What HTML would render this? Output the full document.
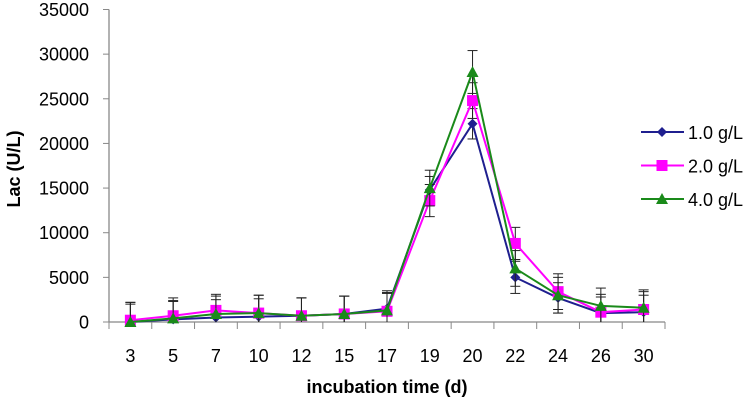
<!DOCTYPE html>
<html><head><meta charset="utf-8"><style>
body{margin:0;background:#fff;width:750px;height:401px;overflow:hidden}
svg text{font-family:"Liberation Sans",Arial,sans-serif}
</style></head><body>
<svg id="c" width="750" height="401"></svg>
<script>
const categories=["3","5","7","10","12","15","17","19","20","22","24","26","30"];
const s1=[0,300,500,600,700,900,1500,14800,22200,5000,2700,1000,1100];
const s2=[200,700,1300,1000,700,900,1200,13600,24800,8800,3400,1100,1400];
const s3=[0,400,900,1000,700,900,1300,15000,28000,6000,3000,1800,1600];
const e1=[2000,2000,2000,2000,2000,2000,2000,1500,1700,1800,1700,1800,1900];
const e2=[2000,2000,1800,2000,2000,2000,2000,1800,2000,1800,2000,2000,2000];
const e3=[2200,2000,2000,2000,2000,2000,2000,2000,2400,2000,2000,2000,2000];
const yTicks=[0,5000,10000,15000,20000,25000,30000,35000];
const names=["1.0 g/L","2.0 g/L","4.0 g/L"];
const NS="http://www.w3.org/2000/svg",svg=document.getElementById('c');
const X0=109,X1=665,Y0=322,Y1=9.5,YM=35000;
const bw=(X1-X0)/categories.length;
const xs=i=>X0+bw*(i+0.5), ys=v=>Y0-(v/YM)*(Y0-Y1);
function mk(t,a,p){const e=document.createElementNS(NS,t);for(const k in a)e.setAttribute(k,a[k]);(p||svg).appendChild(e);return e;}
let g=mk('g',{});

mk('line',{x1:X0,y1:Y1,x2:X0,y2:Y0,stroke:'#888','stroke-width':1.3},g);
yTicks.forEach(v=>{mk('line',{x1:X0-6,y1:ys(v),x2:X0,y2:ys(v),stroke:'#888'},g);
 const t=mk('text',{x:89,y:ys(v)+6.5,'text-anchor':'end','font-size':18},g);t.textContent=v;
 });
g=mk('g',{});

mk('line',{x1:X0,y1:Y0,x2:X1,y2:Y0,stroke:'#888','stroke-width':1.3},g);
for(let i=0;i<=categories.length;i++)mk('line',{x1:X0+bw*i,y1:Y0,x2:X0+bw*i,y2:Y0+7,stroke:'#888'},g);
categories.forEach((c,i)=>{const t=mk('text',{x:xs(i),y:362,'text-anchor':'middle','font-size':18},g);t.textContent=c;
 });
let t=mk('text',{x:387,y:393,'text-anchor':'middle','font-size':18,'font-weight':'bold'});t.textContent='incubation time (d)';

t=mk('text',{x:0,y:0,'text-anchor':'middle','font-size':18,'font-weight':'bold',transform:'translate(20,169) rotate(-90)'});t.textContent='Lac (U/L)';

const series=[[s1,e1,'#1f1f8f','d'],[s2,e2,'#ff00ff','s'],[s3,e3,'#1a8a1a','t']];
function marker(p,x,y,type,col){
 if(type==='d')mk('polygon',{points:`${x},${y-5} ${x+5},${y} ${x},${y+5} ${x-5},${y}`,fill:col},p);
 else if(type==='s')mk('rect',{x:x-5.5,y:y-5.5,width:11,height:11,fill:col},p);
 else mk('polygon',{points:`${x},${y-6} ${x+6},${y+5} ${x-6},${y+5}`,fill:col},p);}
series.forEach(([d,e,col,m],k)=>{
 const sg=mk('g',{});
 d.forEach((v,i)=>{const x=xs(i);const lo=Math.max(0,v-e[i]),hi=v+e[i];
  mk('line',{x1:x,y1:ys(lo),x2:x,y2:ys(hi),stroke:'#222'},sg);
  mk('line',{x1:x-5,y1:ys(hi),x2:x+5,y2:ys(hi),stroke:'#222'},sg);
  if(v-e[i]>0)mk('line',{x1:x-5,y1:ys(lo),x2:x+5,y2:ys(lo),stroke:'#222'},sg);});
 mk('polyline',{points:d.map((v,i)=>xs(i)+','+ys(v)).join(' '),fill:'none',stroke:col,'stroke-width':2},sg);
 d.forEach((v,i)=>marker(sg,xs(i),ys(v),m,col));
 const ly=132+k*33.5;const lg=mk('g',{},svg);
 
 mk('line',{x1:641,y1:ly,x2:684,y2:ly,stroke:col,'stroke-width':2},lg);marker(lg,662,ly,m,col);
 const lt=mk('text',{x:688,y:ly+7,'font-size':18},lg);lt.textContent=names[k];});
</script>
</body></html>
